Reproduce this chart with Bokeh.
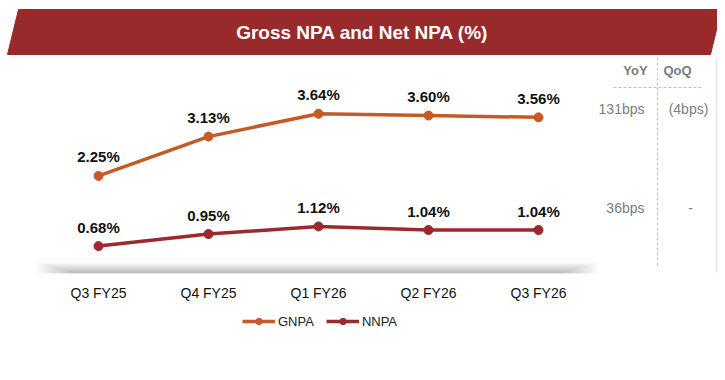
from bokeh.plotting import figure
from bokeh.models import Range1d, Legend, LegendItem, ColumnDataSource
from bokeh.embed import file_html
from bokeh.resources import INLINE
from bokeh.core.properties import value

# ---------------- data ----------------
title = "Gross NPA and Net NPA (%)"
categories = ["Q3 FY25", "Q4 FY25", "Q1 FY26", "Q2 FY26", "Q3 FY26"]
gnpa = [2.25, 3.13, 3.64, 3.60, 3.56]
nnpa = [0.68, 0.95, 1.12, 1.04, 1.04]
table_headers = ["YoY", "QoQ"]
gnpa_change = ["131bps", "(4bps)"]
nnpa_change = ["36bps", "-"]

# ---------------- layout ----------------
W, H = 717, 372
PX_PER_CAT = 110.0
X_ORIGIN = 98.0          # px of first category
PX_PER_PCT = 44.7
Y_ZERO = 276.0           # px of 0%
x0 = -X_ORIGIN / PX_PER_CAT
x1 = x0 + W / PX_PER_CAT
y1 = Y_ZERO / PX_PER_PCT
y0 = y1 - H / PX_PER_PCT


def pxx(xp):
    """pixel -> data x (decorations only)"""
    return x0 + xp / PX_PER_CAT


def pxy(yp):
    """pixel -> data y (decorations only)"""
    return y1 - yp / PX_PER_PCT


FONT_NAME = "Liberation Sans"
FONT = value(FONT_NAME)
BANNER = "#992A2C"
GCOL = "#C65A26"
NCOL = "#9A2A2E"
GRAY = "#7c7c7c"

p = figure(width=W, height=H, x_range=Range1d(x0, x1), y_range=Range1d(y0, y1),
           output_backend="svg", toolbar_location=None, min_border=0,
           x_axis_location=None, y_axis_location=None, outline_line_color=None,
           background_fill_color="white", border_fill_color="white")
p.grid.visible = False

# banner
bx = [pxx(18), pxx(721), pxx(710), pxx(7)]
by = [pxy(9), pxy(9), pxy(54), pxy(54)]
p.patch(bx, by, fill_color=BANNER, line_color=BANNER)
p.text(x=[pxx(362)], y=[pxy(32)], text=[title], text_font=FONT, text_font_style="bold",
       text_font_size="19px", text_color="white", text_align="center",
       text_baseline="middle")

# soft shadow under plot
n_layers = 14
for k in range(n_layers):
    p.quad(left=pxx(36 + 3 * k), right=pxx(598 - 3 * k),
           top=pxy(273 - (n_layers - k) * 0.8), bottom=pxy(273),
           fill_color="black", fill_alpha=0.02, line_color=None)

# series
idx = list(range(len(categories)))
src = ColumnDataSource(dict(
    x=idx, cat=categories, gnpa=gnpa, nnpa=nnpa,
    glab=[f"{v:.2f}%" for v in gnpa], nlab=[f"{v:.2f}%" for v in nnpa],
))

gl = p.line("x", "gnpa", source=src, line_color=GCOL, line_width=3.5)
gs = p.scatter("x", "gnpa", source=src, size=9, fill_color=GCOL, line_color=GCOL)
nl = p.line("x", "nnpa", source=src, line_color=NCOL, line_width=3.5)
ns = p.scatter("x", "nnpa", source=src, size=9, fill_color=NCOL, line_color=NCOL)

for col in ("glab", "nlab"):
    ycol = "gnpa" if col == "glab" else "nnpa"
    p.text("x", ycol, text=col, source=src, y_offset=-19, text_font=FONT,
           text_font_style="bold", text_font_size="15px", text_color="#111111",
           text_align="center", text_baseline="middle")

# category labels
cat_y = pxy(292)
p.text(x=idx, y=[cat_y] * len(idx), text=categories, text_font=FONT,
       text_font_size="14px", text_color="#111111", text_align="center",
       text_baseline="middle")

# legend
legend = Legend(items=[LegendItem(label="GNPA", renderers=[gl, gs]),
                       LegendItem(label="NNPA", renderers=[nl, ns])],
                orientation="horizontal", location=(242, H - 329),
                padding=0, margin=0, spacing=12, label_standoff=3,
                glyph_width=33, glyph_height=16, label_height=16,
                label_text_font=FONT_NAME, label_text_font_size="13px",
                label_text_color="#222222", border_line_color=None,
                background_fill_alpha=0)
p.add_layout(legend)

# side table
p.segment(x0=[pxx(657)], y0=[pxy(57)], x1=[pxx(657)], y1=[pxy(267)],
          line_color="#bdbdbd", line_dash="3 2", line_width=1)
p.segment(x0=[pxx(613)], y0=[pxy(87)], x1=[pxx(702)], y1=[pxy(87)],
          line_color="#bdbdbd", line_dash="3 2", line_width=1)
p.segment(x0=[pxx(716)], y0=[pxy(58)], x1=[pxx(716)], y1=[pxy(272)],
          line_color="#e4e4e4", line_width=1.5)

p.text(x=[pxx(635), pxx(677)], y=[pxy(70)] * 2, text=table_headers, text_font=FONT,
       text_font_style="bold", text_font_size="13px", text_color=GRAY,
       text_align="center", text_baseline="middle")
p.text(x=[pxx(644)], y=[pxy(108)], text=[gnpa_change[0]], text_font=FONT,
       text_font_size="14px", text_color=GRAY, text_align="right",
       text_baseline="middle")
p.text(x=[pxx(688)], y=[pxy(108)], text=[gnpa_change[1]], text_font=FONT,
       text_font_size="14px", text_color=GRAY, text_align="center",
       text_baseline="middle")
p.text(x=[pxx(644)], y=[pxy(207)], text=[nnpa_change[0]], text_font=FONT,
       text_font_size="14px", text_color=GRAY, text_align="right",
       text_baseline="middle")
p.text(x=[pxx(690)], y=[pxy(207)], text=[nnpa_change[1]], text_font=FONT,
       text_font_size="14px", text_color=GRAY, text_align="center",
       text_baseline="middle")

open("out.html", "w").write(file_html(p, INLINE))
